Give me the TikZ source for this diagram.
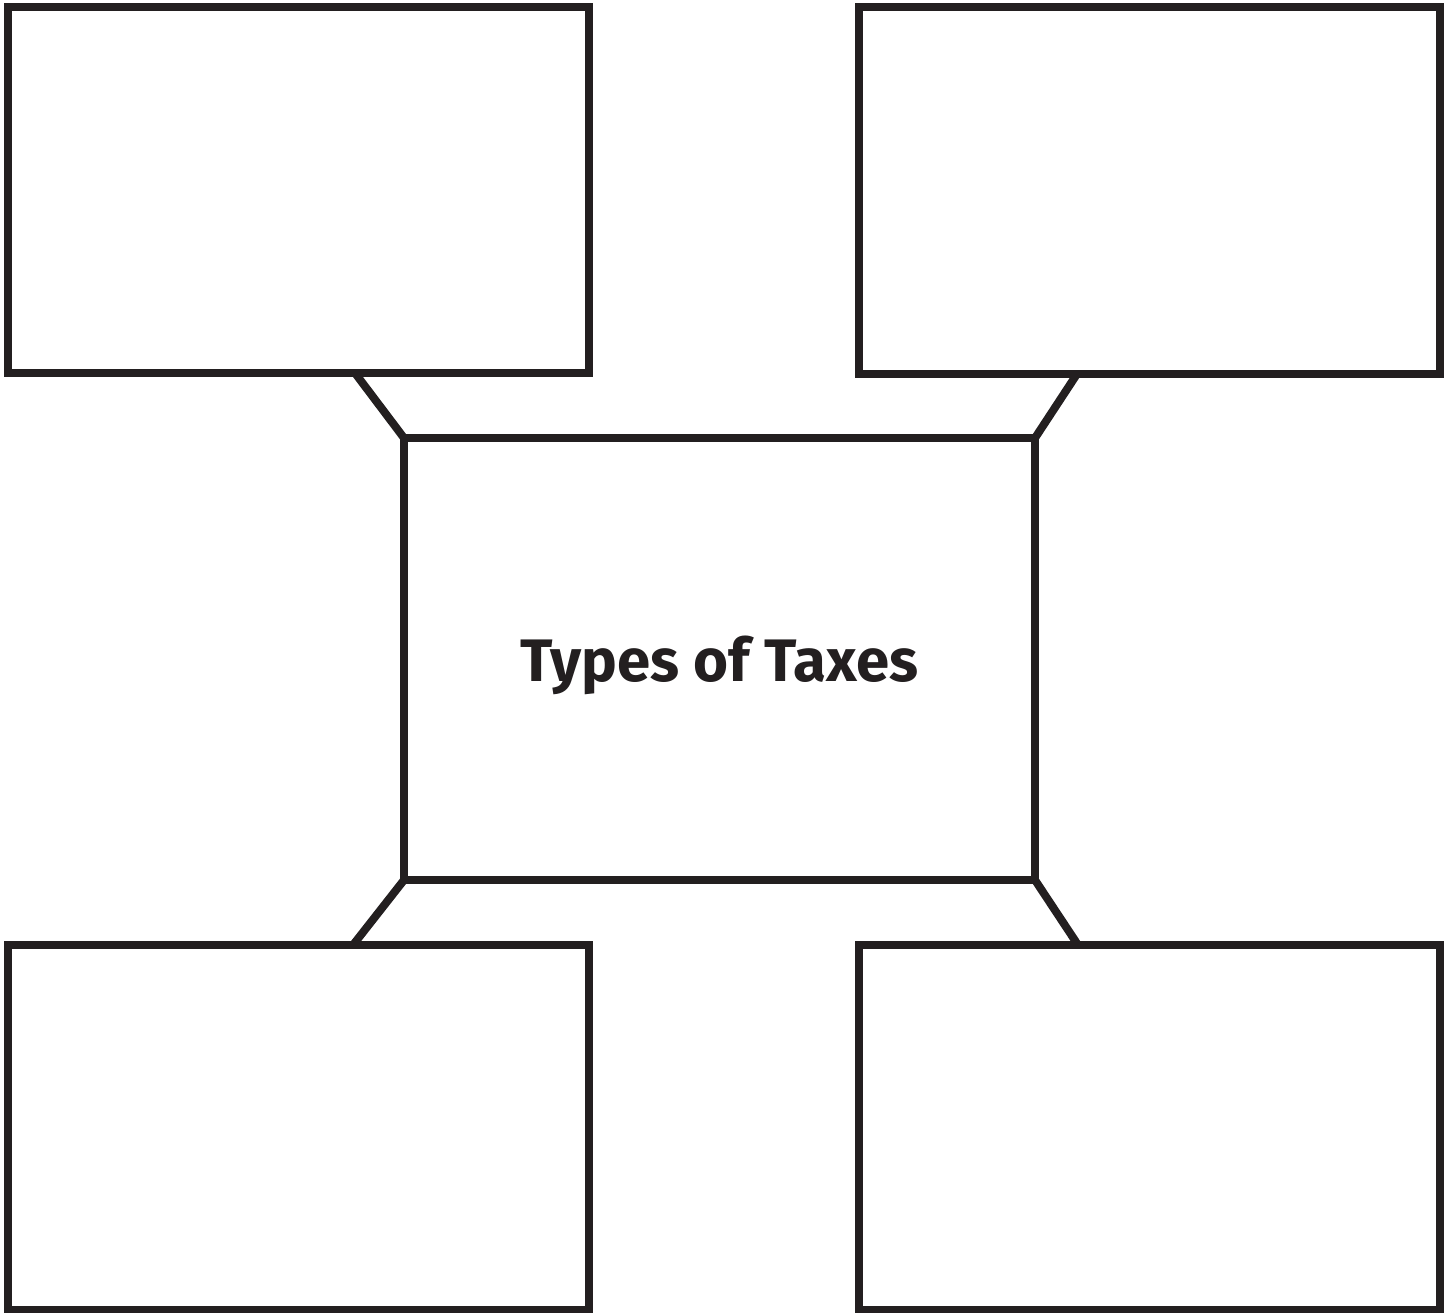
\documentclass[tikz,border=0pt]{standalone}
\usepackage{fontspec}
\setsansfont{Fira Sans}
\definecolor{inkblack}{HTML}{231F20}
\tikzset{
  taxbox/.style={draw=inkblack, line width=4pt, minimum width=290.5pt, inner sep=0pt, outer sep=0pt},
  hubbox/.style={draw=inkblack, line width=4pt, minimum width=315.5pt, minimum height=221pt,
    inner sep=0pt, outer sep=0pt, text depth=0pt, font=\sffamily\bfseries\fontsize{30}{36}\selectfont, text=inkblack},
  spoke/.style={draw=inkblack, line width=4pt}
}
\begin{document}
\begin{tikzpicture}[x=0.5pt,y=-0.5pt]
	\useasboundingbox (0,0) rectangle (1450,1312);

	\node[hubbox] (hub) at (719.5,659) {Types of Taxes};

	\node[taxbox, minimum height=183pt] (tl) at (298,190) {};
	\node[taxbox, minimum height=183.5pt] (tr) at (1149.5,190.5) {};
	\node[taxbox, minimum height=182.5pt] (bl) at (298,1127.5) {};
	\node[taxbox, minimum height=182.5pt] (br) at (1149.5,1127.5) {};

	% feet of the spokes on the outer boxes
	\coordinate (tlfoot) at (355,373);
	\coordinate (trfoot) at (1077,374);
	\coordinate (blfoot) at (353,945);
	\coordinate (brfoot) at (1078,945);

	\draw[spoke] (tlfoot) -- (hub.north west);
	\draw[spoke] (trfoot) -- (hub.north east);
	\draw[spoke] (blfoot) -- (hub.south west);
	\draw[spoke] (brfoot) -- (hub.south east);
\end{tikzpicture}
\end{document}
